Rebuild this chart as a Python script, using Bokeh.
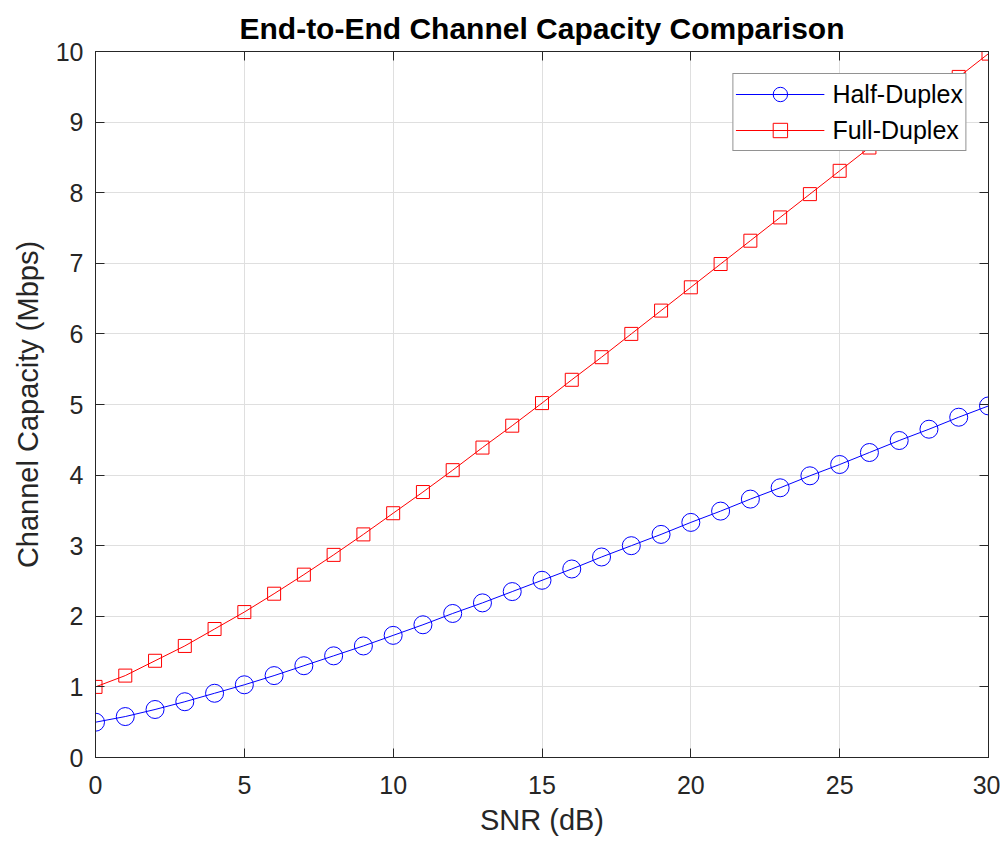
from bokeh.plotting import figure
from bokeh.models import LinearAxis, Legend, LegendItem, Range1d, FixedTicker, CustomJSTickFormatter
from bokeh.embed import file_html
from bokeh.resources import INLINE

snr_db = list(range(0, 31))
half_duplex = [0.50, 0.58, 0.68, 0.79, 0.91, 1.03, 1.16, 1.30, 1.44, 1.58,
               1.73, 1.88, 2.04, 2.19, 2.35, 2.51, 2.67, 2.84, 3.00, 3.16,
               3.33, 3.49, 3.66, 3.82, 3.99, 4.15, 4.32, 4.49, 4.65, 4.82, 4.98]
full_duplex = [1.00, 1.16, 1.37, 1.58, 1.82, 2.06, 2.32, 2.59, 2.87, 3.16,
               3.46, 3.76, 4.07, 4.39, 4.70, 5.02, 5.35, 5.67, 6.00, 6.33,
               6.66, 6.99, 7.32, 7.65, 7.98, 8.31, 8.64, 8.97, 9.30, 9.64, 9.97]
x_ticks = [0, 5, 10, 15, 20, 25, 30]
y_ticks = list(range(0, 11))

FONT = "Liberation Sans"
AX = "#262626"

p = figure(width=1000, height=846, output_backend="svg", toolbar_location=None,
           x_range=Range1d(0, 30), y_range=Range1d(0, 10),
           min_border_left=95, min_border_right=12, min_border_top=51, min_border_bottom=89)

p.title.text = "End-to-End Channel Capacity Comparison"
p.title.align = "center"
p.title.text_font = FONT
p.title.text_font_size = "30px"
p.title.text_font_style = "bold"
p.title.text_color = "#000000"
p.title.standoff = 13

p.outline_line_color = AX
p.outline_line_width = 1

for ax in (p.xaxis[0], p.yaxis[0]):
    ax.major_tick_in = 9
    ax.major_tick_out = 0
    ax.minor_tick_in = 0
    ax.minor_tick_out = 0
    ax.axis_line_color = AX
    ax.major_tick_line_color = AX
    ax.major_label_text_color = AX
    ax.major_label_text_font = FONT
    ax.major_label_text_font_size = "25px"
    ax.axis_label_text_font = FONT
    ax.axis_label_text_font_size = "29px"
    ax.axis_label_text_font_style = "normal"
    ax.axis_label_text_color = AX

p.xaxis[0].ticker = FixedTicker(ticks=x_ticks)
p.yaxis[0].ticker = FixedTicker(ticks=y_ticks)
p.xaxis[0].axis_label = "SNR (dB)"
p.yaxis[0].axis_label = "Channel Capacity (Mbps)"
p.xaxis[0].major_label_standoff = 18
p.yaxis[0].major_label_standoff = 12
p.xaxis[0].axis_label_standoff = 7
p.yaxis[0].axis_label_standoff = 9

blank = CustomJSTickFormatter(code="return ''")
top = LinearAxis(ticker=FixedTicker(ticks=x_ticks), formatter=blank,
                 major_tick_in=9, major_tick_out=0, minor_tick_in=0, minor_tick_out=0,
                 axis_line_color=AX, major_tick_line_color=AX, major_label_standoff=0)
right = LinearAxis(ticker=FixedTicker(ticks=y_ticks), formatter=blank,
                   major_tick_in=9, major_tick_out=0, minor_tick_in=0, minor_tick_out=0,
                   axis_line_color=AX, major_tick_line_color=AX, major_label_standoff=0)
p.add_layout(top, "above")
p.add_layout(right, "right")

p.xgrid.ticker = FixedTicker(ticks=x_ticks)
p.ygrid.ticker = FixedTicker(ticks=y_ticks)
p.grid.grid_line_color = "#dfdfdf"
p.grid.grid_line_width = 1

l1 = p.line(snr_db, half_duplex, line_color="#0000ff", line_width=1)
m1 = p.scatter(snr_db, half_duplex, marker="circle", size=18, fill_color=None,
               line_color="#0000ff", line_width=1)
l2 = p.line(snr_db, full_duplex, line_color="#ff0000", line_width=1)
m2 = p.scatter(snr_db, full_duplex, marker="square", size=13, fill_color=None,
               line_color="#ff0000", line_width=1)

legend = Legend(items=[LegendItem(label="Half-Duplex", renderers=[l1, m1]),
                       LegendItem(label="Full-Duplex", renderers=[l2, m2])],
                location="top_right")
legend.label_text_font = FONT
legend.label_text_font_size = "25px"
legend.label_text_color = "#000000"
legend.glyph_width = 89
legend.glyph_height = 36
legend.label_height = 30
legend.spacing = 0
legend.padding = 2
legend.margin = 22
legend.border_line_color = AX
legend.border_line_width = 1
legend.background_fill_color = "white"
legend.background_fill_alpha = 1
legend.label_standoff = 8
p.add_layout(legend)

open("out.html", "w").write(file_html(p, INLINE))
